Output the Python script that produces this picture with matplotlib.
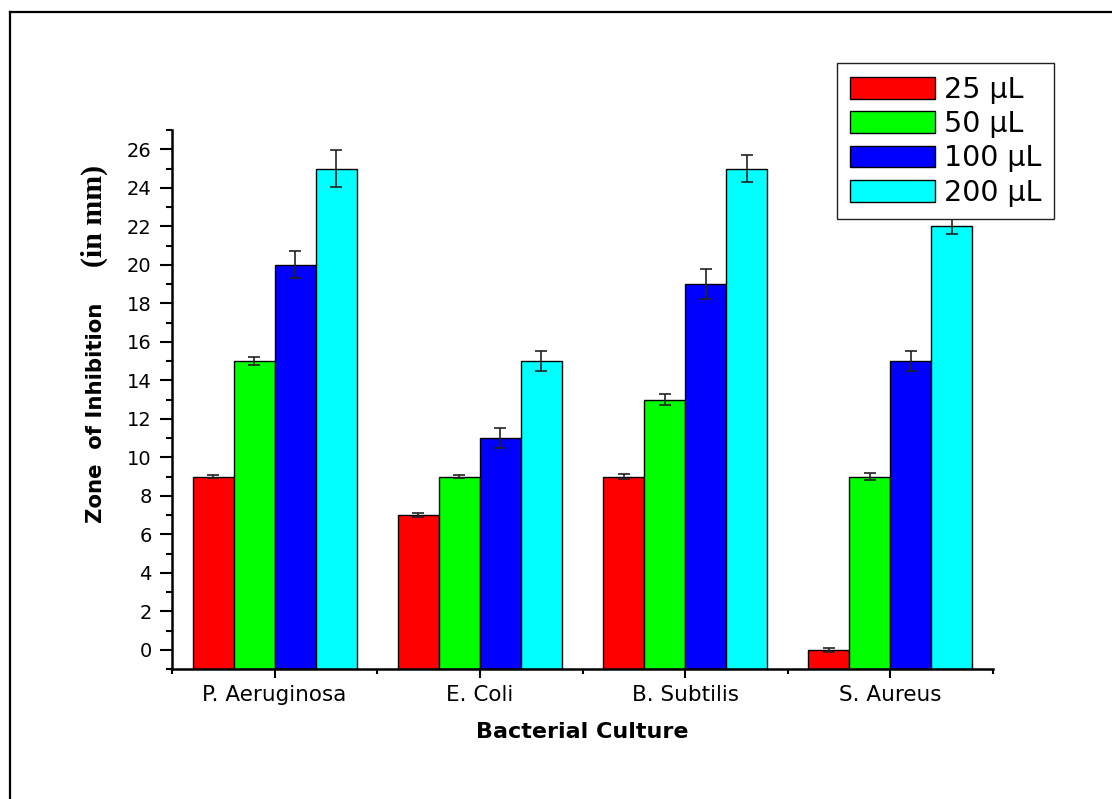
import matplotlib
matplotlib.use('Agg')
import matplotlib.pyplot as plt
import numpy as np
from matplotlib.lines import Line2D
from matplotlib.ticker import MultipleLocator, FixedLocator

# data
cultures = ['P. Aeruginosa', 'E. Coli', 'B. Subtilis', 'S. Aureus']
volumes = ['25 µL', '50 µL', '100 µL', '200 µL']
colors = ['#FF0000', '#00FF00', '#0000FF', '#00FFFF']

zone_25 = [9, 7, 9, 0]
zone_50 = [15, 9, 13, 9]
zone_100 = [20, 11, 19, 15]
zone_200 = [25, 15, 25, 22]

err_25 = [0.1, 0.1, 0.15, 0.1]
err_50 = [0.2, 0.1, 0.3, 0.2]
err_100 = [0.7, 0.5, 0.8, 0.5]
err_200 = [0.95, 0.5, 0.7, 0.4]

zones = [zone_25, zone_50, zone_100, zone_200]
errs = [err_25, err_50, err_100, err_200]

y_min, y_max = -1, 27

fig = plt.figure(figsize=(11.12, 7.99), dpi=100)
ax = fig.add_axes([172/1112, 1-669/799, (993-172)/1112, (669-130)/799])

x = np.arange(1, len(cultures)+1)
w = 0.2
bars = []
for i in range(4):
    pos = x + (i-1.5)*w
    # bars start at the bottom of the axis, like in the original plot
    heights = np.array(zones[i]) - y_min
    b = ax.bar(pos, heights, bottom=y_min, width=w, color=colors[i], edgecolor='black',
               linewidth=1.0, label=volumes[i], zorder=2)
    ax.errorbar(pos, zones[i], yerr=errs[i], fmt='none', ecolor='#222222',
                elinewidth=1.2, capsize=4.3, capthick=1.2, zorder=3)
    bars.append(b)

ax.set_xlim(0.5, 4.5)
ax.set_ylim(y_min, y_max)

ax.set_xticks(x)
ax.set_xticklabels(cultures, fontsize=15.5)
ax.xaxis.set_minor_locator(FixedLocator([0.5, 1.5, 2.5, 3.5, 4.5]))
ax.set_yticks(np.arange(0, 27, 2))
ax.yaxis.set_minor_locator(MultipleLocator(1))
ax.tick_params(axis='y', labelsize=14)

ax.tick_params(axis='y', which='major', direction='out', length=8.6, width=1.5, pad=6)
ax.tick_params(axis='y', which='minor', direction='out', length=4.3, width=1.5)
ax.tick_params(axis='x', which='major', direction='out', length=6.5, width=1.5, pad=5)
ax.tick_params(axis='x', which='minor', direction='out', length=3.6, width=1.5)

for s in ['top', 'right']:
    ax.spines[s].set_visible(False)
for s in ['left', 'bottom']:
    ax.spines[s].set_linewidth(1.8)

ax.set_xlabel('Bacterial Culture', fontsize=16, fontweight='bold', labelpad=12)

# y label: sans part and serif part
fig.text(96/1112, 1-413/799, 'Zone  of Inhibition', rotation=90, ha='center', va='center',
         fontsize=15.3, fontweight='bold')
fig.text(94/1112, 1-216/799, '(in mm)', rotation=90, ha='center', va='center',
         fontsize=21.5, fontweight='bold', family='Liberation Serif')

leg = ax.legend(handles=bars, loc='upper left', bbox_to_anchor=(837/1112, 1-63/799),
                bbox_transform=fig.transFigure, borderaxespad=0, fontsize=20.5,
                frameon=True, fancybox=False, framealpha=1, edgecolor='#222222',
                handlelength=3.0, handleheight=0.8, handletextpad=0.3,
                borderpad=0.45, labelspacing=0.22)
leg.get_frame().set_linewidth(1.0)

# outer frame (only left and top visible)
fig.add_artist(Line2D([10/1112, 10/1112], [0, 1-12/799], transform=fig.transFigure,
                      color='black', linewidth=1.6))
fig.add_artist(Line2D([10/1112, 1], [1-12/799, 1-12/799], transform=fig.transFigure,
                      color='black', linewidth=1.6))

fig.savefig('out.png', dpi=100)
